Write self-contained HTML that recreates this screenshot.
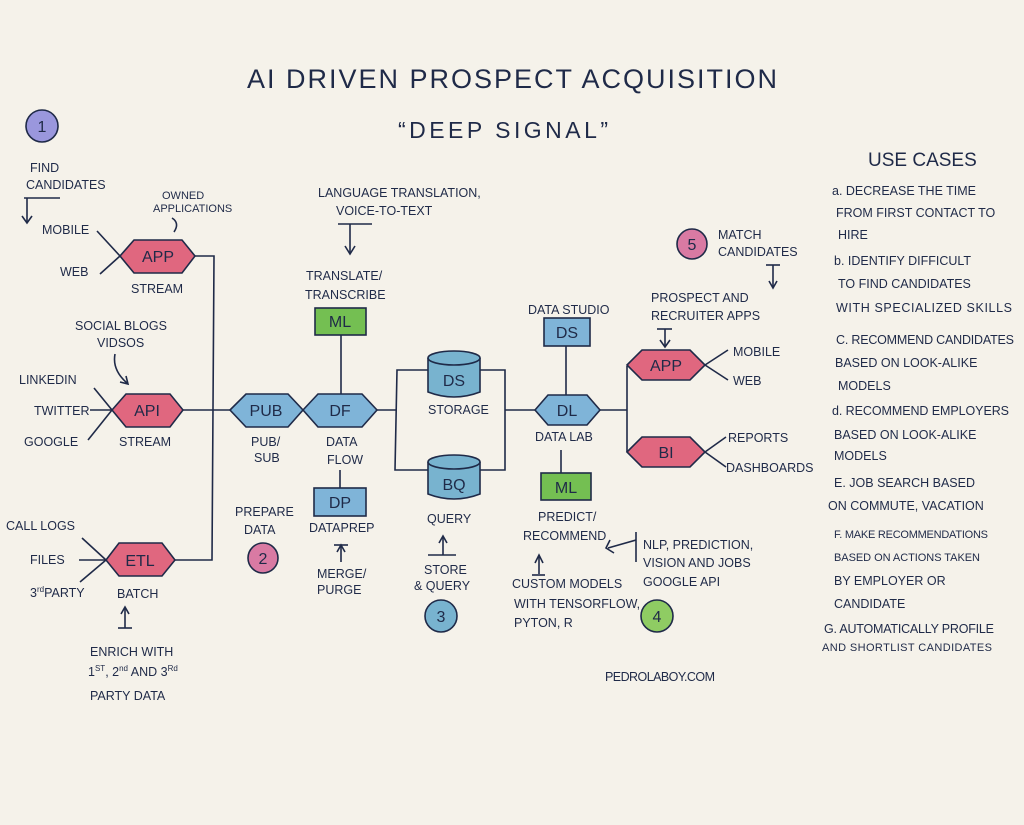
<!DOCTYPE html>
<html><head><meta charset="utf-8"><style>
html,body{margin:0;padding:0;background:#f5f2ea;}
svg{display:block}
text{font-family:"Liberation Sans",sans-serif;fill:#1f2a48;font-size:12.5px}
.t{font-size:30px}
.n{font-size:16px;text-anchor:middle}
.s{font-size:11px}
line,polyline,path.l{stroke:#1f2a48;stroke-width:1.6;fill:none}
.pk{fill:#e0677f;stroke:#1f2a48;stroke-width:1.6}
.bl{fill:#7fb4d8;stroke:#1f2a48;stroke-width:1.6}
.gr{fill:#74bf52;stroke:#1f2a48;stroke-width:1.6}
.pu{fill:#9a97dd;stroke:#1f2a48;stroke-width:1.6}
.cp{fill:#d97aa3;stroke:#1f2a48;stroke-width:1.6}
.cb{fill:#78b3cf;stroke:#1f2a48;stroke-width:1.6}
.cg{fill:#8fcc63;stroke:#1f2a48;stroke-width:1.6}
</style></head><body>
<svg width="1024" height="825" viewBox="0 0 1024 825" xmlns="http://www.w3.org/2000/svg">
<rect width="1024" height="825" fill="#f5f2ea"/>
<text class="t" x="247" y="88" textLength="530" style="font-size:27px">AI DRIVEN PROSPECT ACQUISITION</text>
<text class="t" x="398" y="138" textLength="210" style="font-size:23px">“DEEP SIGNAL”</text>

<circle class="pu" cx="42" cy="126" r="16"/><text class="n" x="42" y="132">1</text>
<circle class="cp" cx="263" cy="558" r="15"/><text class="n" x="263" y="564">2</text>
<circle class="cb" cx="441" cy="616" r="16"/><text class="n" x="441" y="622">3</text>
<circle class="cg" cx="657" cy="616" r="16"/><text class="n" x="657" y="622">4</text>
<circle class="cp" cx="692" cy="244" r="15"/><text class="n" x="692" y="250">5</text>

<text x="30" y="172">FIND</text><text x="26" y="189">CANDIDATES</text>
<line x1="24" y1="198" x2="60" y2="198"/><line x1="27" y1="198" x2="27" y2="222"/><polyline points="22,216 27,223 32,216"/>
<text class="s" x="162" y="199">OWNED</text><text class="s" x="153" y="212">APPLICATIONS</text>
<path class="l" d="M172 218 Q180 223 174 232"/>
<text x="42" y="234">MOBILE</text><text x="60" y="276">WEB</text>
<line x1="97" y1="231" x2="120" y2="256"/><line x1="100" y1="274" x2="120" y2="256"/>
<polygon class="pk" points="120,256 134,240 182,240 195,256 182,273 134,273"/>
<text class="n" x="158" y="262">APP</text>
<text x="131" y="293">STREAM</text>
<polyline points="195,256 214,256 212,560 175,560"/>

<text x="75" y="330">SOCIAL BLOGS</text><text x="97" y="347">VIDSOS</text>
<path class="l" d="M115 354 Q112 370 127 383"/><polyline points="120,382 128,384 126,376"/>
<text x="19" y="384">LINKEDIN</text><text x="34" y="415">TWITTER</text><text x="24" y="446">GOOGLE</text>
<line x1="94" y1="388" x2="112" y2="410"/><line x1="90" y1="410" x2="112" y2="410"/><line x1="88" y1="440" x2="112" y2="410"/>
<polygon class="pk" points="112,410 126,394 170,394 183,410 170,427 126,427"/>
<text class="n" x="147" y="416">API</text>
<text x="119" y="446">STREAM</text>
<line x1="183" y1="410" x2="230" y2="410"/>

<text x="6" y="530">CALL LOGS</text><text x="30" y="564">FILES</text><text x="30" y="597">3<tspan font-size="8" dy="-5">rd</tspan><tspan dy="5">PARTY</tspan></text>
<line x1="82" y1="538" x2="106" y2="560"/><line x1="79" y1="560" x2="106" y2="560"/><line x1="80" y1="582" x2="106" y2="560"/>
<polygon class="pk" points="106,560 119,543 162,543 175,560 162,576 119,576"/>
<text class="n" x="140" y="566">ETL</text>
<text x="117" y="598">BATCH</text>
<line x1="118" y1="628" x2="132" y2="628"/><line x1="125" y1="628" x2="125" y2="608"/><polyline points="121,614 125,607 129,614"/>
<text x="90" y="656">ENRICH WITH</text>
<text x="88" y="676">1<tspan font-size="8" dy="-5">ST</tspan><tspan dy="5">, 2</tspan><tspan font-size="8" dy="-5">nd</tspan><tspan dy="5"> AND 3</tspan><tspan font-size="8" dy="-5">Rd</tspan></text>
<text x="90" y="700">PARTY DATA</text>

<polygon class="bl" points="230,410 246,394 288,394 303,410 288,427 246,427"/>
<text class="n" x="266" y="416">PUB</text>
<text x="251" y="446">PUB/</text><text x="254" y="462">SUB</text>
<polygon class="bl" points="303,410 318,394 362,394 377,410 362,427 318,427"/>
<text class="n" x="340" y="416">DF</text>
<text x="326" y="446">DATA</text><text x="327" y="464">FLOW</text>

<text x="318" y="197">LANGUAGE TRANSLATION,</text><text x="336" y="215">VOICE-TO-TEXT</text>
<line x1="338" y1="224" x2="372" y2="224"/><line x1="350" y1="224" x2="350" y2="253"/><polyline points="345,246 350,254 355,246"/>
<text x="306" y="280">TRANSLATE/</text><text x="305" y="299">TRANSCRIBE</text>
<rect class="gr" x="315" y="308" width="51" height="27"/><text class="n" x="340" y="327">ML</text>
<line x1="341" y1="335" x2="341" y2="394"/>
<line x1="340" y1="470" x2="340" y2="488"/>
<rect class="bl" x="314" y="488" width="52" height="28"/><text class="n" x="340" y="508">DP</text>
<text x="309" y="532">DATAPREP</text>
<line x1="334" y1="545" x2="348" y2="545"/><line x1="341" y1="545" x2="341" y2="562"/><polyline points="337,552 341,545 345,552"/>
<text x="317" y="578">MERGE/</text><text x="317" y="594">PURGE</text>
<text x="235" y="516">PREPARE</text><text x="244" y="534">DATA</text>

<polyline points="377,410 396,410"/>
<polyline points="429,370 397,370 395,470 429,470"/>
<polyline points="480,370 505,370 505,470 480,470"/>
<polyline points="505,410 535,410"/>
<path class="cb" d="M428 358 L428 392 Q454 402 480 392 L480 358"/>
<ellipse class="cb" cx="454" cy="358" rx="26" ry="7"/>
<text class="n" x="454" y="386">DS</text>
<text x="428" y="414">STORAGE</text>
<path class="cb" d="M428 462 L428 494 Q454 504 480 494 L480 462"/>
<ellipse class="cb" cx="454" cy="462" rx="26" ry="7"/>
<text class="n" x="454" y="490">BQ</text>
<text x="427" y="523">QUERY</text>
<line x1="428" y1="555" x2="456" y2="555"/><line x1="443" y1="555" x2="443" y2="537"/><polyline points="439,543 443,536 447,543"/>
<text x="424" y="574">STORE</text><text x="414" y="590">&amp; QUERY</text>

<polygon class="bl" points="535,410 548,395 587,395 600,410 587,425 548,425"/>
<text class="n" x="567" y="416">DL</text>
<text x="535" y="441">DATA LAB</text>
<text x="528" y="314">DATA STUDIO</text>
<rect class="bl" x="544" y="318" width="46" height="28"/><text class="n" x="567" y="338">DS</text>
<line x1="566" y1="346" x2="566" y2="395"/>
<line x1="561" y1="450" x2="561" y2="473"/>
<rect class="gr" x="541" y="473" width="50" height="27"/><text class="n" x="566" y="493">ML</text>
<text x="538" y="521">PREDICT/</text><text x="523" y="540">RECOMMEND</text>
<line x1="532" y1="575" x2="545" y2="575"/><line x1="539" y1="574" x2="539" y2="556"/><polyline points="535,563 539,555 543,563"/>
<text x="512" y="588">CUSTOM MODELS</text><text x="514" y="608">WITH TENSORFLOW,</text><text x="514" y="627">PYTON, R</text>
<polyline points="636,540 608,548"/><polyline points="610,540 606,548 614,553"/>
<line x1="636" y1="532" x2="636" y2="562"/>
<text x="643" y="549">NLP, PREDICTION,</text><text x="643" y="567">VISION AND JOBS</text><text x="643" y="586">GOOGLE API</text>

<polyline points="600,410 627,410"/>
<polyline points="627,366 627,452"/>
<text x="651" y="302">PROSPECT AND</text><text x="651" y="320">RECRUITER APPS</text>
<line x1="657" y1="329" x2="672" y2="329"/><line x1="665" y1="329" x2="665" y2="346"/><polyline points="660,340 665,347 670,340"/>
<polygon class="pk" points="627,365 642,350 690,350 705,365 690,380 642,380"/>
<text class="n" x="666" y="371">APP</text>
<line x1="705" y1="365" x2="728" y2="350"/><line x1="705" y1="365" x2="728" y2="380"/>
<text x="733" y="356">MOBILE</text><text x="733" y="385">WEB</text>
<polygon class="pk" points="627,452 642,437 690,437 705,452 690,467 642,467"/>
<text class="n" x="666" y="458">BI</text>
<line x1="705" y1="452" x2="726" y2="437"/><line x1="705" y1="452" x2="726" y2="467"/>
<text x="728" y="442">REPORTS</text><text x="726" y="472">DASHBOARDS</text>
<text x="718" y="239">MATCH</text><text x="718" y="256">CANDIDATES</text>
<line x1="766" y1="265" x2="780" y2="265"/><line x1="773" y1="265" x2="773" y2="287"/><polyline points="769,281 773,288 777,281"/>
<text x="605" y="681" textLength="110">PEDROLABOY.COM</text>

<text x="868" y="166" style="font-size:19px">USE CASES</text>
<text x="832" y="195">a. DECREASE THE TIME</text>
<text x="836" y="217">FROM FIRST CONTACT TO</text>
<text x="838" y="239">HIRE</text>
<text x="834" y="265">b. IDENTIFY DIFFICULT</text>
<text x="838" y="288">TO FIND CANDIDATES</text>
<text x="836" y="312" textLength="176">WITH SPECIALIZED SKILLS</text>
<text x="836" y="344" textLength="178">C. RECOMMEND CANDIDATES</text>
<text x="835" y="367">BASED ON LOOK-ALIKE</text>
<text x="838" y="390">MODELS</text>
<text x="832" y="415" textLength="177">d. RECOMMEND EMPLOYERS</text>
<text x="834" y="439">BASED ON LOOK-ALIKE</text>
<text x="834" y="460">MODELS</text>
<text x="834" y="487">E. JOB SEARCH BASED</text>
<text x="828" y="510">ON COMMUTE, VACATION</text>
<text class="s" x="834" y="538" textLength="154">F. MAKE RECOMMENDATIONS</text>
<text class="s" x="834" y="561" textLength="146">BASED ON ACTIONS TAKEN</text>
<text x="834" y="585">BY EMPLOYER OR</text>
<text x="834" y="608">CANDIDATE</text>
<text x="824" y="633" textLength="170">G. AUTOMATICALLY PROFILE</text>
<text class="s" x="822" y="651" textLength="170">AND SHORTLIST CANDIDATES</text>
</svg>
</body></html>
